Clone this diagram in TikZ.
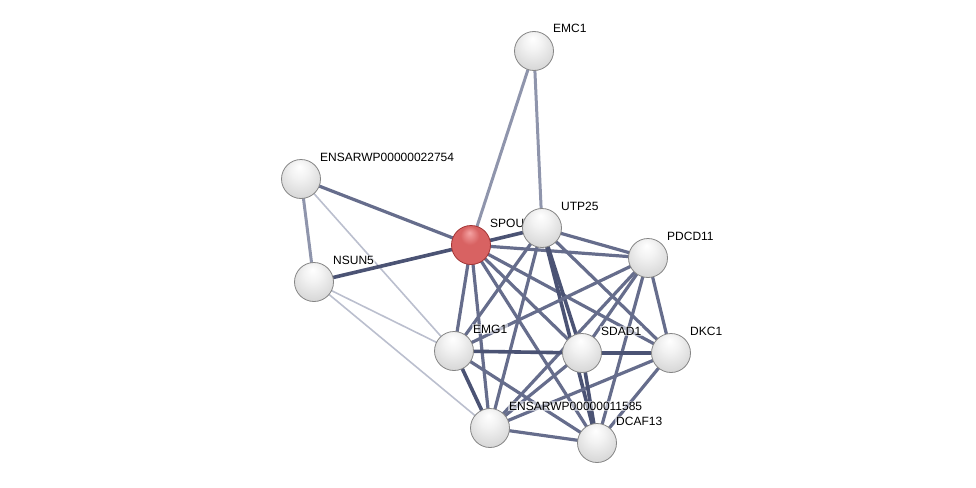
\documentclass[tikz,border=0pt]{standalone}
\usepackage{fontspec}
\setsansfont{Liberation Sans}
\usetikzlibrary{calc}
\definecolor{EdgeDark}{HTML}{4B5374}
\definecolor{EdgeMid}{HTML}{666D8C}
\definecolor{EdgeSoft}{HTML}{8F95AC}
\definecolor{EdgeFaint}{HTML}{BBBFCE}
\definecolor{BallLight}{HTML}{F2F2F2}
\definecolor{BallMid}{HTML}{D2D2D2}
\definecolor{BallRim}{HTML}{9C9C9C}
\definecolor{RedLight}{HTML}{F5A3A3}
\definecolor{RedMid}{HTML}{D86262}
\definecolor{RedRim}{HTML}{A23434}
\definecolor{Outline}{HTML}{858585}
\pgfdeclareradialshading{ballgrey}{\pgfpoint{-2bp}{16bp}}{color(0bp)=(white); color(12bp)=(BallLight); color(34bp)=(BallMid); color(50bp)=(BallRim)}
\pgfdeclareradialshading{ballred}{\pgfpoint{-2bp}{16bp}}{color(0bp)=(RedLight); color(12bp)=(RedMid); color(34bp)=(RedMid); color(50bp)=(RedRim)}

\begin{document}
\begin{tikzpicture}[
  x=1pt, y=-1pt,
  protein/.style={
    circle,
    draw=Outline,
    line width=0.8pt,
    shading=ballgrey,
    minimum size=39pt,
    inner sep=0pt
  },
  query/.style={
    protein,
    draw=RedRim,
    shading=ballred
  },
  lbl/.style={
    anchor=base west,
    font=\sffamily\fontsize{12}{14}\selectfont,
    fill=white,
    fill opacity=0.55,
    text opacity=1,
    inner sep=1pt
  },
  strong/.style={line width=3.6pt,color=EdgeDark},
  medium/.style={line width=3.2pt,color=EdgeMid},
  soft/.style={line width=3pt,color=EdgeSoft},
  faint/.style={line width=1.6pt,color=EdgeFaint}
]
\useasboundingbox (0,0) rectangle (976,487);

% positions
\coordinate (p-emc1) at (534,51);
\coordinate (p-e22754) at (301,179);
\coordinate (p-spout1) at (471,245);
\coordinate (p-utp25) at (542,228);
\coordinate (p-pdcd11) at (648,258);
\coordinate (p-nsun5) at (314,282);
\coordinate (p-emg1) at (454,351);
\coordinate (p-sdad1) at (582,353);
\coordinate (p-dkc1) at (671,353);
\coordinate (p-e11585) at (490,428);
\coordinate (p-dcaf13) at (597,443);

% edges
\draw[faint] (p-e22754) -- (p-emg1);
\draw[faint] (p-nsun5) -- (p-emg1);
\draw[faint] (p-nsun5) -- (p-e11585);
\draw[soft] (p-e22754) -- (p-nsun5);
\draw[soft] (p-emc1) -- (p-spout1);
\draw[soft] (p-emc1) -- (p-utp25);
\draw[medium] (p-e22754) -- (p-spout1);
\draw[strong] (p-nsun5) -- (p-spout1);
\draw[strong] (p-spout1) -- (p-utp25);
\draw[medium] (p-spout1) -- (p-pdcd11);
\draw[medium] (p-spout1) -- (p-emg1);
\draw[medium] (p-spout1) -- (p-e11585);
\draw[medium] (p-spout1) -- (p-sdad1);
\draw[medium] (p-spout1) -- (p-dkc1);
\draw[medium] (p-spout1) -- (p-dcaf13);
\draw[medium] (p-utp25) -- (p-pdcd11);
\draw[medium] (p-utp25) -- (p-emg1);
\draw[medium] (p-utp25) -- (p-e11585);
\draw[medium] (p-utp25) -- (p-dkc1);
\draw[strong] (p-utp25) -- (p-sdad1);
\draw[strong] (p-utp25) -- (p-dcaf13);
\draw[medium] (p-pdcd11) -- (p-emg1);
\draw[medium] (p-pdcd11) -- (p-e11585);
\draw[medium] (p-pdcd11) -- (p-sdad1);
\draw[medium] (p-pdcd11) -- (p-dcaf13);
\draw[medium] (p-pdcd11) -- (p-dkc1);
\draw[strong] (p-emg1) -- (p-sdad1);
\draw[strong] (p-emg1) -- (p-e11585);
\draw[medium] (p-emg1) -- (p-dcaf13);
\draw[medium] (p-e11585) -- (p-sdad1);
\draw[medium] (p-e11585) -- (p-dkc1);
\draw[medium] (p-e11585) -- (p-dcaf13);
\draw[strong] (p-sdad1) -- (p-dkc1);
\draw[strong] (p-sdad1) -- (p-dcaf13);
\draw[medium] (p-dkc1) -- (p-dcaf13);

% proteins and their names
\node[protein] (emc1) at (p-emc1) {};
\node[lbl] (emc1-lbl) at ($(emc1)+(18,-18)$) {EMC1};
\node[protein] (e22754) at (p-e22754) {};
\node[lbl] (e22754-lbl) at ($(e22754)+(18,-18)$) {ENSARWP00000022754};
\node[protein] (nsun5) at (p-nsun5) {};
\node[lbl] (nsun5-lbl) at ($(nsun5)+(18,-18)$) {NSUN5};
\node[query] (spout1) at (p-spout1) {};
\node[lbl] (spout1-lbl) at ($(spout1)+(18,-18)$) {SPOUT1};
\node[protein] (utp25) at (p-utp25) {};
\node[lbl] (utp25-lbl) at ($(utp25)+(18,-18)$) {UTP25};
\node[protein] (pdcd11) at (p-pdcd11) {};
\node[lbl] (pdcd11-lbl) at ($(pdcd11)+(18,-18)$) {PDCD11};
\node[protein] (emg1) at (p-emg1) {};
\node[lbl] (emg1-lbl) at ($(emg1)+(18,-18)$) {EMG1};
\node[protein] (sdad1) at (p-sdad1) {};
\node[lbl] (sdad1-lbl) at ($(sdad1)+(18,-18)$) {SDAD1};
\node[protein] (dkc1) at (p-dkc1) {};
\node[lbl] (dkc1-lbl) at ($(dkc1)+(18,-18)$) {DKC1};
\node[protein] (e11585) at (p-e11585) {};
\node[lbl] (e11585-lbl) at ($(e11585)+(18,-18)$) {ENSARWP00000011585};
\node[protein] (dcaf13) at (p-dcaf13) {};
\node[lbl] (dcaf13-lbl) at ($(dcaf13)+(18,-18)$) {DCAF13};
\end{tikzpicture}
\end{document}
